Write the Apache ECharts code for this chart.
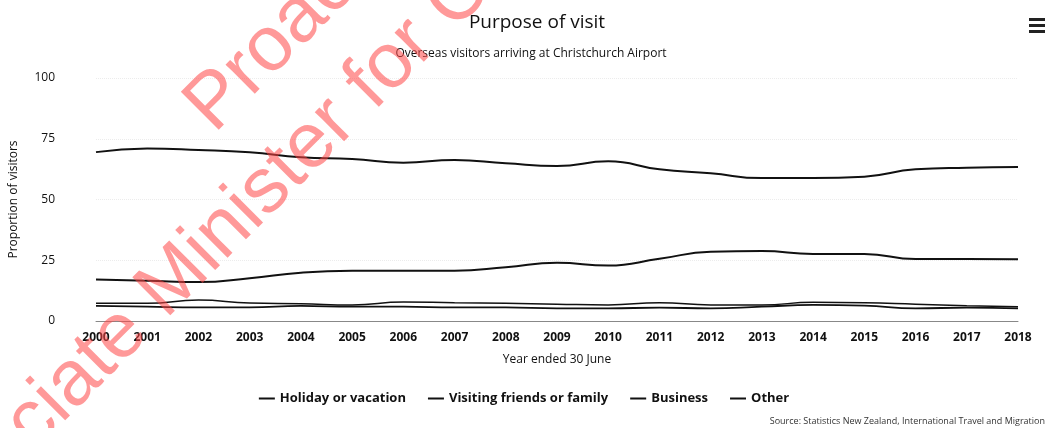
<!DOCTYPE html>
<html>
<head>
<meta charset="utf-8">
<script src="https://cdn.jsdelivr.net/npm/echarts@6/dist/echarts.min.js"></script>
<style>
  html, body { margin: 0; padding: 0; background: #fff; }
  #chart { width: 1048px; height: 428px; }
</style>
</head>
<body>
<div id="chart"></div>
<script>
  // data
  var years = ['2000', '2001', '2002', '2003', '2004', '2005', '2006', '2007', '2008', '2009',
               '2010', '2011', '2012', '2013', '2014', '2015', '2016', '2017', '2018'];
  var holiday = [69.5, 71.0, 70.4, 69.4, 67.4, 66.7, 65.1, 66.3, 64.9, 63.8,
                 65.7, 62.4, 60.8, 58.8, 58.8, 59.4, 62.4, 63.1, 63.4];
  var visiting = [17.1, 16.6, 16.0, 17.6, 19.9, 20.7, 20.7, 20.7, 22.1, 24.0,
                  22.8, 25.6, 28.5, 28.8, 27.6, 27.6, 25.5, 25.5, 25.4];
  var business = [7.3, 7.3, 8.6, 7.4, 7.1, 6.6, 7.8, 7.5, 7.3, 6.9,
                  6.6, 7.5, 6.6, 6.6, 7.7, 7.5, 6.9, 6.3, 5.9];
  var other = [6.2, 5.9, 5.6, 5.6, 6.2, 5.9, 5.9, 5.6, 5.6, 5.2,
               5.2, 5.5, 5.2, 5.9, 6.6, 6.3, 5.2, 5.5, 5.2];
  var yTicks = [0, 25, 50, 75, 100];

  var myChart = echarts.init(document.getElementById('chart'));

  function line(name, data, width) {
    return {
      name: name,
      type: 'line',
      data: data,
      smooth: true,
      symbol: 'none',
      lineStyle: { color: '#111', width: width },
      itemStyle: { color: '#111' }
    };
  }

  var wm = 'rgba(255, 70, 70, 0.55)';

  var option = {
    backgroundColor: '#fff',
    animation: false,
    title: [
      {
        text: 'Purpose of visit',
        left: 532, top: 8, textAlign: 'center',
        textStyle: { fontFamily: 'Open Sans', fontSize: 19, fontWeight: 'normal', color: '#111' }
      },
      {
        text: 'Overseas visitors arriving at Christchurch Airport',
        left: 526, top: 43, textAlign: 'center',
        textStyle: { fontFamily: 'Open Sans', fontSize: 12, fontWeight: 'normal', color: '#111' }
      }
    ],
    legend: {
      bottom: 18,
      left: 'center',
      itemWidth: 16,
      itemHeight: 2,
      itemGap: 22,
      icon: 'rect',
      textStyle: { fontFamily: 'Open Sans', fontSize: 13, fontWeight: 'bold', color: '#111' },
      data: ['Holiday or vacation', 'Visiting friends or family', 'Business', 'Other']
    },
    grid: { left: 96, right: 30, top: 78, bottom: 107 },
    xAxis: {
      type: 'category',
      data: years,
      boundaryGap: false,
      name: 'Year ended 30 June',
      nameLocation: 'middle',
      nameGap: 33,
      nameTextStyle: { fontFamily: 'Open Sans', fontSize: 12, color: '#111' },
      axisLine: { lineStyle: { color: '#888', width: 1 } },
      axisTick: { show: false },
      axisLabel: { fontFamily: 'Open Sans', fontSize: 12, fontWeight: 'bold', color: '#111', margin: 11 }
    },
    yAxis: {
      type: 'value',
      min: yTicks[0],
      max: yTicks[yTicks.length - 1],
      interval: 25,
      name: 'Proportion of visitors',
      nameLocation: 'middle',
      nameGap: 76,
      nameTextStyle: { fontFamily: 'Open Sans', fontSize: 12, color: '#111' },
      axisLine: { show: false },
      axisTick: { show: false },
      axisLabel: { fontFamily: 'Open Sans', fontSize: 12, color: '#111', margin: 41 },
      splitLine: { lineStyle: { color: '#ececec', type: 'dotted' } }
    },
    series: [
      line('Holiday or vacation', holiday, 2),
      line('Visiting friends or family', visiting, 2),
      line('Business', business, 1.5),
      line('Other', other, 1.8)
    ],
    graphic: [
      // menu button
      { type: 'rect', shape: { x: 1029, y: 18, width: 16, height: 3 }, style: { fill: '#222' } },
      { type: 'rect', shape: { x: 1029, y: 24, width: 16, height: 3 }, style: { fill: '#222' } },
      { type: 'rect', shape: { x: 1029, y: 30, width: 16, height: 3 }, style: { fill: '#222' } },
      // source note
      {
        type: 'text', x: 1045, y: 421,
        style: {
          text: 'Source: Statistics New Zealand, International Travel and Migration',
          font: '9px "Open Sans"', fill: '#333', align: 'right', verticalAlign: 'middle'
        }
      },
      // red stamp across the page
      {
        type: 'text', x: 199, y: 119, rotation: Math.PI / 4, z: 100,
        style: {
          text: 'Proactively Released',
          font: '78px "Liberation Sans"', fill: wm, align: 'left', verticalAlign: 'middle'
        }
      },
      {
        type: 'text', x: -104, y: 559, rotation: Math.PI / 4, z: 100,
        style: {
          text: 'Associate Minister for Customs',
          font: '78px "Liberation Sans"', fill: wm, align: 'left', verticalAlign: 'middle'
        }
      }
    ]
  };

  myChart.setOption(option);
</script>
</body>
</html>
